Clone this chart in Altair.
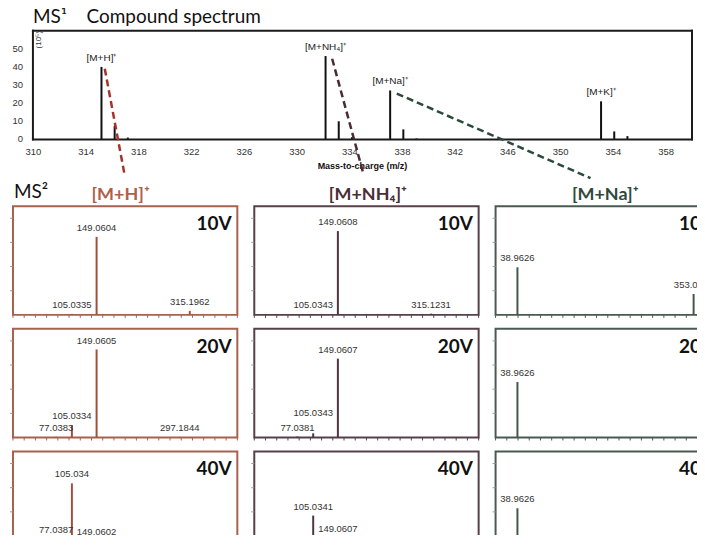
import altair as alt
import pandas as pd

# ---------------- MS1 compound spectrum ----------------
ms1_mz = [315.2, 316.2, 317.2, 332.2, 333.2, 334.2, 337.1, 338.1, 339.1, 353.1, 354.1, 355.1]
ms1_int = [40, 7.5, 1.0, 46, 10, 1.2, 27, 5.5, 0.5, 21, 4.4, 1.8]

adduct_names = ["[M+H]⁺", "[M+NH₄]⁺", "[M+Na]⁺", "[M+K]⁺"]
adduct_mz = [315.2, 332.2, 337.1, 353.1]
adduct_int = [40, 46, 27, 21]

# dashed connectors (m/z, intensity in MS1 units; ends reach below the axis)
conn_names = ["[M+H]⁺", "[M+NH₄]⁺", "[M+Na]⁺"]
conn_x1 = [315.45, 332.7, 337.6]
conn_y1 = [39, 44.5, 25.3]
conn_x2 = [316.96, 335.1, 352.3]
conn_y2 = [-19.8, -19.8, -21.4]

ms1_xrange = [310, 360]
ms1_yrange = [0, 60]
ms1_ticks = list(range(310, 361, 2))
ms1_yticks = [0, 10, 20, 30, 40, 50]

# ---------------- MS2 spectra ----------------
volts = ["10V", "20V", "40V"]
col_titles = ["[M+H]⁺", "[M+NH₄]⁺", "[M+Na]⁺"]
ms2_xticks = list(range(0, 401, 20))
ms2_yticks = [20, 40, 60, 80]

mh_10_mz = [105.0335, 149.0604, 315.1962]
mh_10_int = [0.8, 64.6, 3.3]
mh_10_lbl = ["105.0335", "149.0604", "315.1962"]
mh_20_mz = [77.0383, 105.0334, 149.0605, 297.1844]
mh_20_int = [0.6, 10.2, 72.9, 0.5]
mh_20_lbl = ["77.0383", "105.0334", "149.0605", "297.1844"]
mh_40_mz = [77.0387, 105.034, 149.0602]
mh_40_int = [17.3, 63.6, 16.0]
mh_40_lbl = ["77.0387", "105.034", "149.0602"]

mnh4_10_mz = [105.0343, 149.0608, 315.1231]
mnh4_10_int = [0.6, 69.4, 1.0]
mnh4_10_lbl = ["105.0343", "149.0608", "315.1231"]
mnh4_20_mz = [77.0381, 105.0343, 149.0607]
mnh4_20_int = [0.8, 3.5, 65.3]
mnh4_20_lbl = ["77.0381", "105.0343", "149.0607"]
mnh4_40_mz = [77.039, 105.0341, 149.0607]
mnh4_40_int = [6.6, 36.9, 18.7]
mnh4_40_lbl = ["77.039", "105.0341", "149.0607"]

mna_10_mz = [38.9626, 353.0792]
mna_10_int = [39.4, 17.3]
mna_10_lbl = ["38.9626", "353.0792"]
mna_20_mz = [38.9626]
mna_20_int = [46.0]
mna_20_lbl = ["38.9626"]
mna_40_mz = [38.9626]
mna_40_int = [43.0]
mna_40_lbl = ["38.9626"]

# extra label lift (intensity units) where labels would collide
mnh4_20_lift = [0, 9, 0]

col_title_colors = ["#b0604a", "#4b2d37", "#2e4a3c"]
col_frame_colors = ["#a8614f", "#56404a", "#4a5a50"]
col_peak_colors = ["#a0503f", "#4f3641", "#44574b"]
conn_colors = ["#a3342c", "#4a2b35", "#2c4a3a"]

LABEL_FONT = "Liberation Sans"
NARROW_FONT = "'Liberation Sans Narrow', 'Liberation Sans', sans-serif"
HEAD_FONT = "Lato"

# ---------------- top chart ----------------
TOP_PX = 661 / 50.0          # px per m/z unit in the MS1 panel
TOP_LEFT = 20                # room for the intensity labels, inside the view
x_lo = ms1_xrange[0] - TOP_LEFT / TOP_PX

ms1_df = pd.DataFrame({"mz": ms1_mz, "intensity": ms1_int})
add_df = pd.DataFrame({"mz": adduct_mz, "intensity": adduct_int, "name": adduct_names})
conn_df = pd.DataFrame({"name": conn_names, "x1": conn_x1, "y1": conn_y1,
                        "x2": conn_x2, "y2": conn_y2})
ytick_df = pd.DataFrame({"v": ms1_yticks, "x0": [ms1_xrange[0]] * len(ms1_yticks)})
x0, x9 = ms1_xrange
y0, y9 = ms1_yrange
frame_df = pd.DataFrame({"fx": [x0, x0, x0, x9], "fx2": [x9, x9, x0, x9],
                         "fy": [y0, y9, y0, y0], "fy2": [y0, y9, y9, y9]})

x1 = alt.X("mz:Q", scale=alt.Scale(domain=[x_lo, ms1_xrange[1]], nice=False),
           axis=alt.Axis(values=ms1_ticks, title="Mass-to-charge (m/z)",
                         titleFontSize=9, titleFontWeight="bold", titleFont=LABEL_FONT,
                         titleColor="#111", titlePadding=6, titleX=350,
                         labelFontSize=9.5, labelColor="#333", labelFont=NARROW_FONT,
                         labelOverlap=False, labelFlush=False, ticks=False, labelPadding=7,
                         domain=False, grid=False))
y1 = alt.Y("intensity:Q", scale=alt.Scale(domain=ms1_yrange, nice=False), axis=None)

ms1_peaks = alt.Chart(ms1_df).mark_rule(color="#111", strokeWidth=2).encode(
    x=x1, y=y1, y2=alt.datum(0))
ms1_frame = alt.Chart(frame_df).mark_rule(
    color="#1a1a1a", strokeWidth=2, strokeCap="square").encode(
    x="fx:Q", x2="fx2:Q", y="fy:Q", y2="fy2:Q")
ms1_ylabels = alt.Chart(ytick_df).mark_text(
    align="right", baseline="middle", dx=-10, fontSize=9.5, font=NARROW_FONT,
    color="#333").encode(x="x0:Q", y="v:Q", text="v:N")
ms1_labels = alt.Chart(add_df).mark_text(
    baseline="bottom", dy=-4, fontSize=10, font=NARROW_FONT, color="#222").encode(
    x="mz:Q", y="intensity:Q", text="name:N")
ms1_conn = alt.Chart(conn_df).mark_rule(strokeDash=[7, 4], strokeWidth=2.5).encode(
    x="x1:Q", y="y1:Q", x2="x2:Q", y2="y2:Q",
    color=alt.Color("name:N", scale=alt.Scale(domain=conn_names, range=conn_colors),
                    legend=None))
unit_txt = alt.Chart(pd.DataFrame({"t": ["(10⁵)"]})).mark_text(
    angle=270, fontSize=8, font=LABEL_FONT, color="#333", align="center",
    baseline="middle").encode(x=alt.value(TOP_LEFT + 6), y=alt.value(9), text="t:N")
ms1_title = alt.Chart(pd.DataFrame({"t": ["MS¹\u00a0\u00a0\u00a0\u00a0Compound spectrum"]})).mark_text(
    align="left", baseline="alphabetic", fontSize=19, font=HEAD_FONT, color="#111").encode(
    x=alt.value(TOP_LEFT), y=alt.value(-8), text="t:N")

top = alt.layer(ms1_peaks, ms1_frame, ms1_ylabels, ms1_labels, ms1_conn, unit_txt,
                ms1_title).properties(width=661 + TOP_LEFT, height=109)

# ---------------- MS2 panels ----------------
PW, PH = 225, 109
title_x = [108, 114, 110]


def panel(mz, inten, lbl, ri, ci, lift=None):
    if lift is None:
        lift = [0] * len(mz)
    df = pd.DataFrame({"mz": mz, "intensity": inten, "label": lbl,
                       "ly": [a + b for a, b in zip(inten, lift)]})
    color = col_frame_colors[ci]
    xs = alt.Scale(domain=[0, 400], nice=False)
    ys = alt.Scale(domain=[0, 90], nice=False)
    base = alt.Chart(df)
    peaks = base.mark_rule(color=col_peak_colors[ci], strokeWidth=2).encode(
        x=alt.X("mz:Q", scale=xs, axis=None),
        y=alt.Y("intensity:Q", scale=ys, axis=None), y2=alt.datum(0))
    texts = base.mark_text(baseline="bottom", dy=-4, fontSize=9.5, font=LABEL_FONT,
                           color="#333").encode(
        x=alt.X("mz:Q", axis=None), y=alt.Y("ly:Q", axis=None), text="label:N")
    xt = alt.Chart(pd.DataFrame({"t": ms2_xticks})).mark_rule(
        color=color, strokeWidth=1).encode(
        x=alt.X("t:Q", axis=None), y=alt.value(PH), y2=alt.value(PH + 3))
    yt = alt.Chart(pd.DataFrame({"t": ms2_yticks})).mark_rule(
        color="#999", strokeWidth=1).encode(
        y=alt.Y("t:Q", axis=None), x=alt.value(-3), x2=alt.value(0))
    vt = alt.Chart(pd.DataFrame({"v": [volts[ri]]})).mark_text(
        align="left", baseline="alphabetic", fontSize=19, fontWeight="bold",
        font=HEAD_FONT, color="#111").encode(
        x=alt.value(184), y=alt.value(24), text="v:N")
    layers = [peaks, xt, yt, texts, vt]
    if ri == 0:
        layers.append(alt.Chart(pd.DataFrame({"t": [col_titles[ci]]})).mark_text(
            align="center", baseline="alphabetic", fontSize=18, fontWeight="bold",
            font=HEAD_FONT, color=col_title_colors[ci]).encode(
            x=alt.value(title_x[ci]), y=alt.value(-6), text="t:N"))
        if ci == 0:
            layers.append(alt.Chart(pd.DataFrame({"t": ["MS²"]})).mark_text(
                align="left", baseline="alphabetic", fontSize=19, font=HEAD_FONT,
                color="#111").encode(x=alt.value(1), y=alt.value(-8), text="t:N"))
    return alt.layer(*layers).properties(
        width=PW, height=PH, view=alt.ViewBackground(stroke=color, strokeWidth=2))


row1 = alt.hconcat(
    panel(mh_10_mz, mh_10_int, mh_10_lbl, 0, 0),
    panel(mnh4_10_mz, mnh4_10_int, mnh4_10_lbl, 0, 1),
    panel(mna_10_mz, mna_10_int, mna_10_lbl, 0, 2),
    spacing=10)
row2 = alt.hconcat(
    panel(mh_20_mz, mh_20_int, mh_20_lbl, 1, 0),
    panel(mnh4_20_mz, mnh4_20_int, mnh4_20_lbl, 1, 1, lift=mnh4_20_lift),
    panel(mna_20_mz, mna_20_int, mna_20_lbl, 1, 2),
    spacing=10)
row3 = alt.hconcat(
    panel(mh_40_mz, mh_40_int, mh_40_lbl, 2, 0),
    panel(mnh4_40_mz, mnh4_40_int, mnh4_40_lbl, 2, 1),
    panel(mna_40_mz, mna_40_int, mna_40_lbl, 2, 2),
    spacing=10)

grid = alt.vconcat(row1, row2, row3, spacing=8)

chart = alt.concat(top, grid, columns=1, spacing=2, align="none").properties(
    padding={"left": 0, "top": -1, "right": -25, "bottom": -31}
).configure(font=LABEL_FONT).configure_view(stroke=None)

chart.save("out.html", embed_options={"renderer": "svg", "actions": False})
